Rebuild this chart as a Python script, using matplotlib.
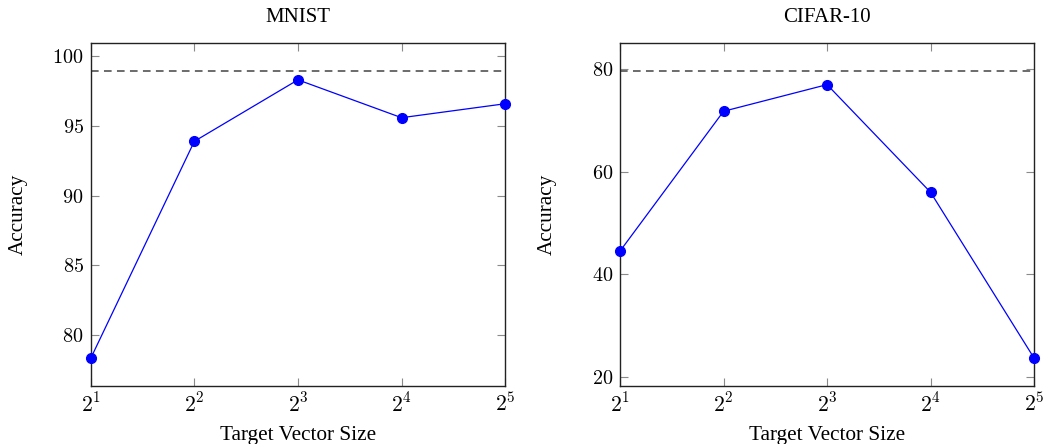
import numpy as np
import matplotlib
matplotlib.use('Agg')
import matplotlib.pyplot as plt

plt.rcParams['font.family'] = ['Liberation Serif', 'DejaVu Serif']
plt.rcParams['mathtext.fontset'] = 'cm'

# target vector sizes as powers of two
exponents = [1, 2, 3, 4, 5]
tick_labels = [r'$2^{%d}$' % e for e in exponents]

mnist_acc = [78.35, 93.88, 98.28, 95.57, 96.57]
mnist_baseline = 98.93

cifar_acc = [44.5, 71.75, 76.95, 55.96, 23.64]
cifar_baseline = 79.67

fig = plt.figure(figsize=(10.44, 4.44), dpi=100)

def draw_panel(ax, acc, baseline, title, yticks, ylim):
    ax.plot(exponents, acc, color='blue', lw=0.9, marker='o', markersize=7,
            markerfacecolor='blue', markeredgecolor='blue', zorder=3, clip_on=False)
    ax.axhline(baseline, color='#444444', lw=1.1, ls=(0, (5, 3.5)))
    ax.set_xlim(1, 5)
    ax.set_ylim(*ylim)
    ax.set_xticks(exponents)
    ax.set_xticklabels(tick_labels, fontsize=15.5)
    ax.set_yticks(yticks)
    ax.set_yticklabels([r'$%d$' % t for t in yticks], fontsize=14.5)
    ax.tick_params(direction='in', length=6, width=0.8, color='#8a8a8a',
                   top=True, right=True, pad=5)
    for s in ax.spines.values():
        s.set_linewidth(1.0)
        s.set_color('#222222')
    ax.set_title(title, fontsize=15, pad=15)
    ax.set_xlabel('Target Vector Size', fontsize=15.3, labelpad=7)
    ax.set_ylabel('Accuracy', fontsize=15.3)
    # same label offset on both panels, like pgfplots
    ax.yaxis.set_label_coords(-0.152, 0.5)

ax1 = fig.add_axes([0.0869, 0.1306, 0.397, 0.773])
draw_panel(ax1, mnist_acc, mnist_baseline, 'MNIST', [80, 85, 90, 95, 100], (76.37, 100.93))

ax2 = fig.add_axes([0.5939, 0.1306, 0.3966, 0.773])
draw_panel(ax2, cifar_acc, cifar_baseline, 'CIFAR-10', [20, 40, 60, 80], (18.2, 85.1))

plt.savefig('out.png', dpi=100)
